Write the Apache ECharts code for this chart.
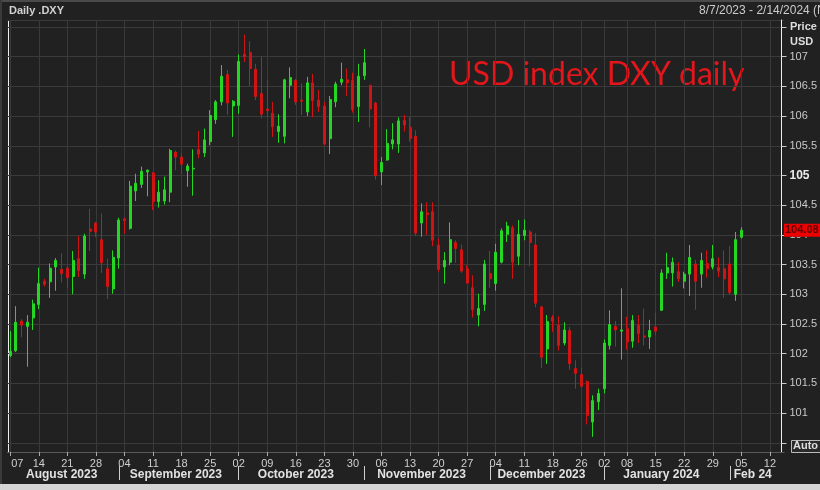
<!DOCTYPE html>
<html><head><meta charset="utf-8">
<script src="https://cdn.jsdelivr.net/npm/echarts@6/dist/echarts.min.js"></script>
<style>html,body{margin:0;padding:0;background:#222;}#c{width:820px;height:490px;}</style>
</head><body><div id="c"></div>
<script>
// ---- data ----
const startDate = '2023-08-07';
const endDate = '2024-02-14';
const holidays = ['2023-12-25', '2024-01-01'];
const opens = [101.97,102.05,102.55,102.46,102.60,102.83,103.22,103.21,103.46,103.42,
103.44,103.30,103.60,103.34,104.10,104.20,103.92,103.43,103.09,103.61,
104.27,104.11,104.74,104.85,105.06,105.04,104.56,104.57,104.72,105.39,
105.31,105.08,105.11,105.44,105.38,105.57,105.94,106.24,106.70,106.17,
106.18,107.04,107.07,106.79,106.38,106.12,106.05,105.74,105.66,106.52,
106.60,106.27,106.07,106.56,106.27,106.17,105.62,106.24,106.57,106.61,
106.60,106.16,106.68,106.52,106.22,105.06,105.26,105.53,105.53,105.93,
105.81,105.66,104.20,104.37,104.39,103.83,103.46,103.54,103.87,103.75,
103.43,103.11,102.65,102.83,103.35,103.18,103.54,104.01,104.12,103.64,
103.99,104.05,103.83,102.79,102.08,102.61,102.48,102.18,102.39,101.75,
101.65,101.53,100.85,101.19,101.41,102.14,102.46,102.38,102.42,102.21,
102.48,102.30,102.28,102.45,102.73,103.36,103.36,103.38,103.22,103.34,
103.51,103.34,103.52,103.46,103.45,103.43,103.51,103.00,103.96];
const closes = [102.04,102.53,102.48,102.53,102.84,103.18,103.17,103.44,103.57,103.35,
103.28,103.57,103.40,103.98,104.06,104.05,103.53,103.13,103.62,104.25,
104.24,104.82,104.87,105.07,105.09,104.56,104.72,104.76,105.42,105.31,
105.19,105.16,105.12,105.36,105.60,106.01,106.24,106.67,106.22,106.25,
106.92,107.00,106.80,106.33,106.03,106.09,105.82,105.83,106.61,106.65,
106.24,106.25,106.56,106.26,106.16,105.53,106.28,106.54,106.62,106.56,
106.11,106.67,106.90,106.12,105.00,105.22,105.54,105.60,105.92,105.85,
105.62,104.03,104.39,104.34,103.91,103.42,103.57,103.92,103.77,103.39,
103.19,102.74,102.76,103.51,103.26,103.71,104.07,104.15,103.54,104.01,
104.08,103.87,102.85,101.94,102.54,102.55,102.14,102.40,101.83,101.67,
101.45,100.96,101.21,101.33,102.18,102.49,102.40,102.40,102.20,102.56,
102.34,102.28,102.39,102.38,103.36,103.45,103.54,103.26,103.34,103.62,
103.22,103.57,103.43,103.60,103.39,103.26,103.03,103.92,104.08];
const lows = [101.94,102.03,102.28,101.78,102.40,102.75,103.13,102.94,103.06,103.20,
103.11,103.00,103.29,103.26,103.73,103.96,103.36,102.92,103.01,103.43,
104.02,104.09,104.57,104.79,104.65,104.42,104.46,104.51,104.55,105.09,
105.02,104.81,104.66,105.29,105.31,105.51,105.87,106.18,106.02,105.65,
106.04,106.91,106.51,106.27,105.96,105.98,105.65,105.55,105.54,106.30,
106.19,106.02,106.00,105.98,106.07,105.51,105.36,106.15,106.52,106.34,
106.06,105.90,106.61,105.81,104.93,104.84,105.25,105.44,105.38,105.74,
105.57,103.98,103.97,104.00,103.81,103.38,103.18,103.49,103.53,103.36,
103.18,102.61,102.46,102.72,103.11,103.06,103.52,103.88,103.26,103.49,
103.91,103.47,102.78,101.76,101.83,102.37,102.05,102.14,101.73,101.41,
101.43,100.81,100.60,101.05,101.33,102.07,102.12,101.90,102.07,102.10,
102.18,102.14,102.08,102.31,102.72,103.26,103.13,103.21,103.10,102.97,
102.74,103.11,103.28,103.42,103.29,102.94,103.00,102.89,103.94];
const highs = [102.38,102.80,102.58,102.65,102.91,103.45,103.26,103.52,103.61,103.69,
103.49,103.73,103.98,104.02,104.44,104.22,104.36,103.60,103.74,104.29,
104.29,104.91,105.03,105.15,105.10,105.06,104.92,104.98,105.45,105.42,
105.37,105.20,105.44,105.75,105.79,106.10,106.27,106.86,106.78,106.27,
107.04,107.37,107.26,106.88,107.00,106.61,106.24,106.03,106.63,106.82,
106.63,106.55,106.66,106.71,106.44,106.24,106.34,106.58,106.90,106.80,
106.73,106.88,107.13,106.52,106.24,105.31,105.78,105.88,105.98,106.02,
105.98,105.76,104.53,104.55,104.55,103.94,103.71,104.21,103.91,103.84,
103.49,103.32,103.01,103.58,103.73,103.85,104.11,104.22,104.16,104.25,
104.26,104.08,104.03,102.80,102.65,102.65,102.63,102.53,102.45,101.89,
101.76,101.55,101.30,101.41,102.24,102.73,102.55,103.10,102.62,102.65,
102.65,102.76,102.57,102.69,103.42,103.70,103.62,103.54,103.38,103.83,
103.58,103.70,103.74,103.83,103.62,103.74,103.81,104.05,104.13];
const monthLabels = {
  '2023-08': 'August 2023', '2023-09': 'September 2023', '2023-10': 'October 2023',
  '2023-11': 'November 2023', '2023-12': 'December 2023', '2024-01': 'January 2024',
  '2024-02': 'Feb 24'
};
const headerLeft = 'Daily .DXY';
const headerRight = '8/7/2023 - 2/14/2024 (NY)';
const titleText = 'USD index DXY daily';
const lastPriceLabel = '104.08';

// ---- build categories (trading days) ----
function buildDates() {
  const out = [];
  const d = new Date(startDate + 'T00:00:00Z');
  const end = new Date(endDate + 'T00:00:00Z');
  while (d <= end) {
    const s = d.toISOString().slice(0, 10);
    const dow = d.getUTCDay();
    if (dow !== 0 && dow !== 6 && holidays.indexOf(s) < 0) out.push(s);
    d.setUTCDate(d.getUTCDate() + 1);
  }
  return out;
}
const dates = buildDates();
const weekStart = dates.map((s, i) => {
  if (i === 0) return true;
  const a = new Date(s + 'T00:00:00Z').getUTCDay();
  const b = new Date(dates[i - 1] + 'T00:00:00Z').getUTCDay();
  return a < b;
});
const monthFirst = dates.map((s, i) => i > 0 && s.slice(0, 7) !== dates[i - 1].slice(0, 7));
const monthMid = {};
(function () {
  const groups = {};
  dates.forEach((s, i) => { const k = s.slice(0, 7); (groups[k] = groups[k] || []).push(i); });
  Object.keys(groups).forEach(k => { const g = groups[k]; monthMid[Math.floor((g[0] + g[g.length - 1]) / 2)] = k; });
})();
const ohlc = opens.map((o, i) => [o, closes[i], lows[i], highs[i]]);

const chart = echarts.init(document.getElementById('c'), null, { renderer: 'canvas' });
const FONT = 'Liberation Sans';
const baseGraphic = [
  { type: 'rect', shape: { x: 0, y: 0, width: 820, height: 2 }, style: { fill: '#4a4a4a' }, silent: true },
  { type: 'rect', shape: { x: 0, y: 0, width: 2, height: 484 }, style: { fill: '#3a3a3a' }, silent: true },
  { type: 'rect', shape: { x: 0, y: 484, width: 820, height: 6 }, style: { fill: '#d4d4d4' }, silent: true },
  { type: 'line', shape: { x1: 8, y1: 20.5, x2: 784, y2: 20.5 }, style: { stroke: '#5a5a5a', lineWidth: 1 }, silent: true },
  { type: 'line', shape: { x1: 8.5, y1: 20, x2: 8.5, y2: 452 }, style: { stroke: '#f0f0f0', lineWidth: 1 }, silent: true },
  { type: 'line', shape: { x1: 8, y1: 20.5, x2: 28, y2: 20.5 }, style: { stroke: '#f0f0f0', lineWidth: 1 }, silent: true },
  { type: 'line', shape: { x1: 8, y1: 452.5, x2: 28, y2: 452.5 }, style: { stroke: '#f0f0f0', lineWidth: 1 }, silent: true },
  { type: 'line', shape: { x1: 765, y1: 20.5, x2: 784, y2: 20.5 }, style: { stroke: '#f0f0f0', lineWidth: 1 }, silent: true },
  { type: 'line', shape: { x1: 764, y1: 452.5, x2: 784, y2: 452.5 }, style: { stroke: '#f0f0f0', lineWidth: 1 }, silent: true },
  { type: 'text', left: 9, top: 5, style: { text: headerLeft, fill: '#d2d2d2', font: 'bold 11px "Liberation Sans"' }, silent: true },
  { type: 'text', left: 699, top: 5, style: { text: headerRight, fill: '#cccccc', font: '12px "Liberation Sans"' }, silent: true },
  { type: 'text', left: 790, top: 21, style: { text: 'Price', fill: '#dddddd', font: 'bold 11px "Liberation Sans"' }, silent: true },
  { type: 'text', left: 790, top: 36, style: { text: 'USD', fill: '#dddddd', font: 'bold 11px "Liberation Sans"' }, silent: true },
  { type: 'text', left: 449, top: 59, style: { text: titleText, fill: '#e2161b', font: '32px Lato' }, silent: true },
  { type: 'rect', shape: { x: 791.5, y: 440.5, width: 30, height: 12 }, style: { fill: '#2a2a2a', stroke: '#bbbbbb', lineWidth: 1 }, silent: true },
  { type: 'text', left: 793, top: 440, style: { text: 'Auto', fill: '#dddddd', font: 'bold 11px "Liberation Sans"' }, silent: true }
];
const option = {
  animation: false,
  backgroundColor: '#212121',
  textStyle: { fontFamily: FONT },
  grid: { left: 7.4, right: 33.3, top: 20, bottom: 38 },
  xAxis: [{
    type: 'category', data: dates, boundaryGap: true,
    axisLine: { show: true, lineStyle: { color: '#5a5a5a' } },
    axisTick: { show: true, alignWithLabel: true, length: 4, interval: (i) => weekStart[i], lineStyle: { color: '#aaaaaa' } },
    axisLabel: {
      interval: (i) => weekStart[i], margin: 6, color: '#cfcfcf', fontSize: 11, fontFamily: FONT,
      formatter: (v, i) => i === 0 ? '{f|' + v.slice(8, 10) + '}' : v.slice(8, 10),
      rich: { f: { padding: [0, 0, 0, 14], color: '#cfcfcf', fontSize: 11, fontFamily: FONT } }
    },
    splitLine: { show: true, alignWithLabel: true, interval: (i) => weekStart[i], lineStyle: { color: '#3a3a3a', width: 1 } }
  }, {
    type: 'category', data: dates, boundaryGap: true, position: 'bottom', offset: 14,
    axisLine: { show: false },
    axisTick: { show: true, alignWithLabel: true, length: 14, interval: (i) => monthFirst[i], lineStyle: { color: '#cfcfcf' } },
    axisLabel: {
      interval: (i) => monthMid[i] !== undefined, margin: 3, color: '#e2e2e2', fontSize: 12, fontWeight: 'bold', fontFamily: FONT,
      formatter: (v) => monthLabels[v.slice(0, 7)]
    },
    splitLine: { show: false }
  }],
  yAxis: {
    type: 'value', position: 'right', offset: -2.7, scale: true,
    min: 100.345, max: 107.618, splitNumber: 14, minInterval: 0.5, maxInterval: 0.5,
    axisLine: { show: true, lineStyle: { color: '#eeeeee' } },
    axisTick: { show: true, length: 5, lineStyle: { color: '#cccccc' } },
    axisLabel: {
      margin: 8, color: '#c8c8c8', fontSize: 11, fontFamily: FONT, showMinLabel: false, showMaxLabel: false,
      formatter: (v) => (v < 100.9 || v > 107.1) ? '' : (Math.abs(v - 105) < 1e-6 ? '{b|105}' : String(v)),
      rich: { b: { fontWeight: 'bold', color: '#ececec', fontSize: 12, fontFamily: FONT } }
    },
    splitLine: { show: true, lineStyle: { color: '#3a3a3a', width: 1 } }
  },
  series: [{
    type: 'candlestick', data: ohlc, barWidth: 2.5,
    itemStyle: { color: '#25d625', color0: '#d01414', borderColor: '#25d625', borderColor0: '#d01414', borderWidth: 1 }
  }],
  graphic: baseGraphic
};
chart.setOption(option);

// last price tag placed through the y scale
const lastClose = closes[closes.length - 1];
const tagY = chart.convertToPixel({ yAxisIndex: 0 }, lastClose);
chart.setOption({
  graphic: baseGraphic.concat([
    { type: 'rect', shape: { x: 784, y: tagY - 6.5, width: 36, height: 13 }, style: { fill: '#ee0000' }, silent: true, z: 100 },
    { type: 'text', x: 785, y: tagY, style: { text: lastPriceLabel, fill: '#5c0000', font: 'bold 11px "Liberation Sans"', verticalAlign: 'middle' }, silent: true, z: 101 }
  ])
});
</script>
</body></html>
